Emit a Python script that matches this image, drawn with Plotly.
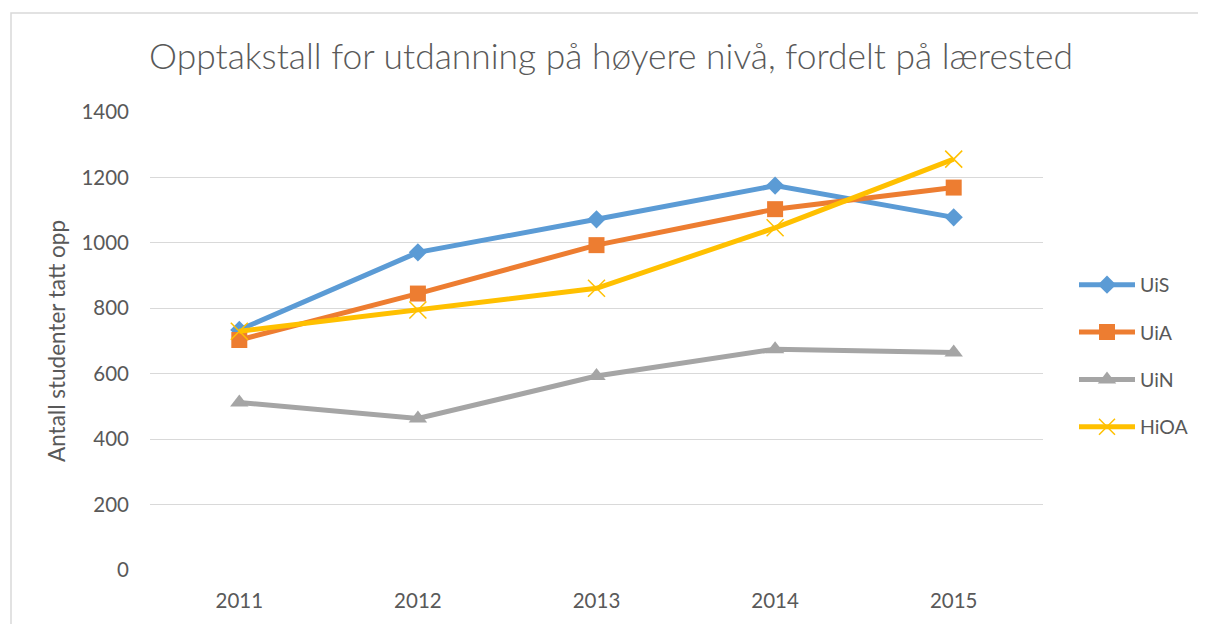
import plotly.graph_objects as go

years = ["2011", "2012", "2013", "2014", "2015"]
uis = [734, 971, 1072, 1175, 1078]
uia = [703, 845, 993, 1103, 1169]
uin = [512, 463, 593, 675, 665]
hioa = [730, 795, 861, 1046, 1256]

series = [
    ("UiS", uis, "#5B9BD5", dict(symbol="diamond", size=14)),
    ("UiA", uia, "#ED7D31", dict(symbol="square", size=16)),
    ("UiN", uin, "#A5A5A5", dict(symbol="triangle-up", size=16)),
    ("HiOA", hioa, "#FFC000", dict(symbol="x-thin-open", size=17, line=dict(width=1.5, color="#FFC000"))),
]

fig = go.Figure()
for i, (name, vals, color, mk) in enumerate(series):
    marker = dict(color=color, **mk)
    if "line" not in mk:
        marker["line"] = dict(width=0)
    fig.add_trace(go.Scatter(
        x=years, y=vals, name=name, mode="lines+markers",
        line=dict(color=color, width=5),
        marker=marker, legendgroup=f"g{i}",
    ))

OX, OY = 8, 8  # page body margin
W, H = 1206, 624
L, R, T, B = 150 - OX, 1043 - OX, 112 - OY, 570 - OY
pw, ph = R - L, B - T

def px(x):
    return (x - OX - L) / pw

def py(y):
    return (B - (y - OY)) / ph

fig.update_layout(
    width=W, height=H,
    margin=dict(l=L, r=W - R, t=T, b=H - B),
    paper_bgcolor="white", plot_bgcolor="white",
    font=dict(family="Lato, Open Sans, sans-serif", color="#595959"),
    title=dict(text="Opptakstall for utdanning på høyere nivå, fordelt på lærested",
               x=(611 - OX) / W, xanchor="center", y=1 - (57 - OY) / H, yanchor="middle",
               font=dict(size=35.4, color="#595959", weight=300)),
    xaxis=dict(type="category", range=[-0.5, 4.5], showgrid=False, showline=False,
               zeroline=False, ticks="", tickfont=dict(size=20.5, color="#595959"),
               ticklabelstandoff=16),
    yaxis=dict(range=[0, 1400], dtick=200, showgrid=True, gridcolor="#D9D9D9",
               gridwidth=1.3, zeroline=False, showline=False, ticks="",
               tickfont=dict(size=20.5, color="#595959"), ticklabelstandoff=20,
               title=dict(text="Antall studenter tatt opp", font=dict(size=22.5, color="#595959"),
                          standoff=9)),
    legend=dict(x=px(1074), xanchor="left", y=py(356), yanchor="middle",
                font=dict(size=19.5, color="#595959"), tracegroupgap=19,
                itemwidth=56, bgcolor="rgba(0,0,0,0)"),
    shapes=[dict(type="rect", xref="paper", yref="paper",
                 x0=px(11), x1=px(1230), y0=py(650), y1=py(13),
                 line=dict(color="#D9D9D9", width=1.5), fillcolor="rgba(0,0,0,0)",
                 layer="below")],
)

fig.write_html("out.html")
